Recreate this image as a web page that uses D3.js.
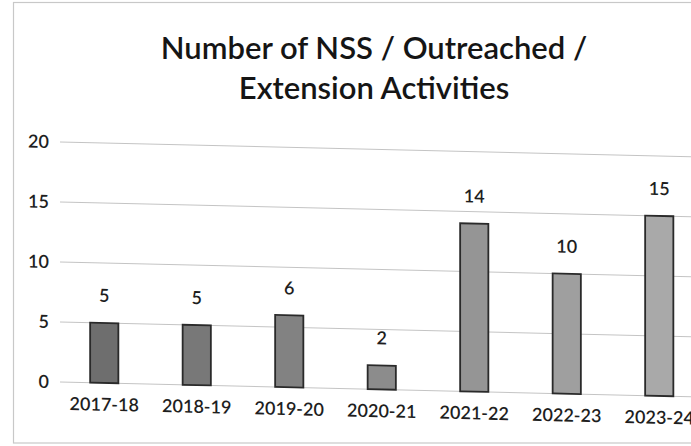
<!DOCTYPE html>
<html>
<head>
<meta charset="utf-8">
<script src="https://cdn.jsdelivr.net/npm/d3@7"></script>
<style>
  html, body { margin: 0; padding: 0; background: #ffffff; }
  svg { display: block; }
</style>
</head>
<body>
<svg id="chart" width="691" height="446"></svg>
<script>
// Activity counts per academic year
const years = ["2017-18", "2018-19", "2019-20", "2020-21", "2021-22", "2022-23", "2023-24"];
const activities = [5, 5, 6, 2, 14, 10, 15];
const yTicks = [0, 5, 10, 15, 20];
const titleLines = ["Number of NSS / Outreached /", "Extension Activities"];

const W = 691, H = 446;
const svg = d3.select("#chart");
const font = "Lato, 'Open Sans', sans-serif";

// outer frame of the chart area
svg.append("rect")
  .attr("x", 13.5).attr("y", 2.5)
  .attr("width", 720).attr("height", 440.5)
  .attr("fill", "#ffffff")
  .attr("stroke", "#c8c8c8").attr("stroke-width", 1.2);

// title
svg.append("g").selectAll("text")
  .data(titleLines)
  .join("text")
  .attr("x", 374)
  .attr("y", (d, i) => 59 + i * 40)
  .attr("text-anchor", "middle")
  .attr("font-family", font)
  .attr("font-size", 31)
  .attr("font-weight", 600)
  .attr("fill", "#151515")
  .text(d => d);

// plot group, slightly sheared like the printed page
const plot = svg.append("g").attr("transform", "skewY(1.34)");

const x = d3.scaleBand()
  .domain(years)
  .range([58, 705.5])
  .paddingInner(0.695)
  .paddingOuter(0.3475);

const y = d3.scaleLinear()
  .domain([0, 20])
  .range([380.5, 140.5]);

// horizontal gridlines
plot.append("g").selectAll("line")
  .data(yTicks)
  .join("line")
  .attr("x1", 60).attr("x2", 720)
  .attr("y1", d => y(d)).attr("y2", d => y(d))
  .attr("stroke", "#c4c4c4").attr("stroke-width", 1);

// y-axis tick labels
const yAxis = d3.axisLeft(y).tickValues(yTicks).tickSize(0).tickPadding(0);
const yg = plot.append("g").attr("transform", "translate(49,0)").call(yAxis);
yg.select(".domain").remove();
yg.selectAll("text")
  .attr("font-family", font)
  .attr("font-size", 18)
  .attr("font-weight", 600)
  .attr("fill", "#1e1e1e");

// x-axis category labels
const xAxis = d3.axisBottom(x).tickSize(0).tickPadding(0);
const xg = plot.append("g").attr("transform", `translate(0,${y(0) + 15})`).call(xAxis);
xg.select(".domain").remove();
xg.selectAll("text")
  .attr("font-family", font)
  .attr("font-size", 18)
  .attr("font-weight", 600)
  .attr("fill", "#1e1e1e");

// bars, shading lightens slightly across the row
const shade = d3.scaleLinear().domain([0, years.length - 1]).range(["#6e6e6e", "#a9a9a9"]);

plot.append("g").selectAll("rect")
  .data(activities)
  .join("rect")
  .attr("x", (d, i) => x(years[i]))
  .attr("y", d => y(d))
  .attr("width", x.bandwidth())
  .attr("height", d => y(0) - y(d))
  .attr("fill", (d, i) => shade(i))
  .attr("stroke", "#2a2a2a")
  .attr("stroke-width", 1.8);

// value labels above bars
plot.append("g").selectAll("text")
  .data(activities)
  .join("text")
  .attr("x", (d, i) => x(years[i]) + x.bandwidth() / 2)
  .attr("y", d => y(d) - 21)
  .attr("text-anchor", "middle")
  .attr("font-family", font)
  .attr("font-size", 18)
  .attr("font-weight", 600)
  .attr("fill", "#1e1e1e")
  .text(d => d);
</script>
</body>
</html>
